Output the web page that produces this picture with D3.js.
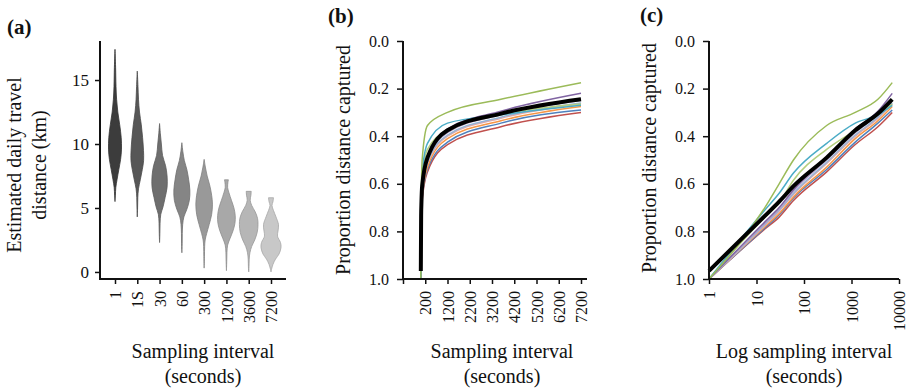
<!DOCTYPE html>
<html>
<head>
<meta charset="utf-8">
<script src="https://cdn.jsdelivr.net/npm/d3@7"></script>
<style>
  body { margin: 0; background: #fff; }
  svg, svg text { font-family: "Liberation Serif", "Times New Roman", serif; }
</style>
</head>
<body>
<svg id="fig" width="911" height="391"></svg>
<script>
// ---- panel (a) data: violin profiles (km level, relative density) ----
const violinCats = ["1", "1S", "30", "60", "300", "1200", "3600", "7200"];
const violinKm = [
  [17.4, 16, 14.5, 13.5, 12.5, 11.5, 10.5, 9.6, 8.8, 8, 7.2, 6.6, 6, 5.5],
  [15.7, 14.5, 13.5, 12.5, 11.5, 10.5, 9.5, 8.7, 8, 7.2, 6.5, 5.8, 5, 4.3],
  [11.6, 10.8, 10, 9.1, 8.3, 7.5, 6.6, 5.8, 5.1, 4.5, 3.8, 3, 2.3],
  [10.1, 9.4, 8.7, 8, 7.2, 6.4, 5.6, 4.9, 4.3, 3.7, 3, 2.2, 1.5],
  [8.8, 8.2, 7.5, 6.8, 6, 5.3, 4.5, 3.7, 3, 2.5, 2, 1.2, 0.3],
  [7.2, 7.0, 6.6, 6.2, 5.6, 5, 4.4, 3.8, 3.2, 2.6, 2.1, 1.5, 0.8, 0.1],
  [6.3, 6.0, 5.6, 5.2, 4.7, 4.2, 3.7, 3.1, 2.5, 2, 1.5, 1, 0.4, 0],
  [5.8, 5.5, 5.2, 4.8, 4.3, 3.7, 3.2, 2.8, 2.3, 1.9, 1.4, 1, 0.6, 0.2, 0]
];
const violinDensity = [
  [0, 0.06, 0.1, 0.16, 0.28, 0.47, 0.62, 0.65, 0.56, 0.38, 0.2, 0.08, 0.04, 0],
  [0, 0.07, 0.12, 0.22, 0.4, 0.53, 0.62, 0.63, 0.5, 0.3, 0.12, 0.05, 0.03, 0],
  [0, 0.08, 0.18, 0.3, 0.6, 0.75, 0.75, 0.55, 0.35, 0.12, 0.05, 0.03, 0],
  [0, 0.1, 0.25, 0.5, 0.68, 0.8, 0.75, 0.5, 0.2, 0.08, 0.04, 0.03, 0],
  [0, 0.12, 0.3, 0.55, 0.75, 0.83, 0.75, 0.5, 0.25, 0.1, 0.05, 0.03, 0],
  [0.2, 0.15, 0.12, 0.25, 0.5, 0.75, 0.88, 0.85, 0.65, 0.35, 0.12, 0.05, 0.03, 0],
  [0.25, 0.22, 0.15, 0.3, 0.65, 0.88, 0.93, 0.85, 0.6, 0.3, 0.12, 0.05, 0.03, 0],
  [0.25, 0.2, 0.1, 0.25, 0.5, 0.75, 0.7, 0.65, 0.95, 1.0, 0.8, 0.45, 0.2, 0.05, 0]
];
const kmTicks = [0, 5, 10, 15];

// ---- panels (b) and (c) data: proportion of distance captured ----
const intervals = [1, 15, 30, 60, 300, 1200, 3600, 7200];
const propRed      = [1.00, 0.79, 0.74, 0.67, 0.55, 0.435, 0.36, 0.30];
const propBlue     = [1.00, 0.785, 0.73, 0.66, 0.54, 0.425, 0.345, 0.29];
const propOrange   = [1.00, 0.78, 0.725, 0.655, 0.53, 0.41, 0.335, 0.275];
const propPink     = [1.00, 0.775, 0.715, 0.645, 0.515, 0.40, 0.325, 0.265];
const propSkyBlue  = [1.00, 0.77, 0.71, 0.64, 0.51, 0.395, 0.32, 0.26];
const propLavender = [1.00, 0.765, 0.705, 0.63, 0.50, 0.385, 0.31, 0.25];
const propLime     = [1.00, 0.74, 0.68, 0.585, 0.455, 0.375, 0.31, 0.265];
const propPurple   = [1.00, 0.76, 0.70, 0.625, 0.49, 0.37, 0.295, 0.22];
const propTeal     = [1.00, 0.71, 0.64, 0.555, 0.43, 0.345, 0.31, 0.27];
const propGreen    = [1.00, 0.70, 0.60, 0.50, 0.355, 0.30, 0.245, 0.175];
const propMean     = [0.966, 0.735, 0.675, 0.61, 0.49, 0.375, 0.305, 0.245];
const propTicks = [0, 0.2, 0.4, 0.6, 0.8, 1.0];
const linearTicks = [-800, 200, 1200, 2200, 3200, 4200, 5200, 6200, 7200];
const logTicks = [1, 10, 100, 1000, 10000];

const series = [propRed, propBlue, propOrange, propPink, propSkyBlue, propLavender,
                propLime, propPurple, propTeal, propGreen];
const seriesColors = ["#c0504d", "#4f81bd", "#f79646", "#e6a9a6", "#95b3d7", "#b3a2c7",
                      "#b5cf7e", "#8064a2", "#4bacc6", "#9bbb59"];
const violinFills = ["#3c3c3c", "#575757", "#6e6e6e", "#858585", "#999999", "#a8a8a8", "#b6b6b6", "#c8c8c8"];

const svg = d3.select("#fig");

function styleAxis(g, size) {
  g.attr("font-family", null);
  g.selectAll("line").attr("stroke", "#111").attr("stroke-width", 1.5);
  g.selectAll("text").attr("font-size", size).attr("fill", "#111");
  g.select(".domain").remove();
}

function rotateLabels(g) {
  g.selectAll("text")
    .attr("transform", "rotate(-90)")
    .attr("text-anchor", "end")
    .attr("x", -12).attr("y", 0).attr("dy", "0.35em");
}

function frame(x0, x1, y0, y1) {
  svg.append("path")
    .attr("d", `M${x0},${y0}V${y1}H${x1}`)
    .attr("fill", "none").attr("stroke", "#111").attr("stroke-width", 2);
}

function label(txt, x, y, opts = {}) {
  const t = svg.append("text").attr("x", x).attr("y", y)
    .attr("font-size", opts.size || 20)
    .attr("text-anchor", opts.anchor || "middle")
    .attr("fill", "#111")
    .text(txt);
  if (opts.bold) t.attr("font-weight", "bold");
  if (opts.rotate) t.attr("transform", `rotate(-90,${x},${y})`);
  return t;
}

// ================= panel (a) =================
const xA = d3.scalePoint().domain(violinCats).range([115, 271]);
const yA = d3.scaleLinear().domain([-0.55, 18.05]).range([279, 41]);
const wA = d3.scaleLinear().domain([0, 1]).range([0, 10]);

violinCats.forEach((c, i) => {
  const pts = violinKm[i].map((k, j) => ({ km: k, d: violinDensity[i][j] }));
  const area = d3.area()
    .y(d => yA(d.km))
    .x0(d => xA(c) - wA(d.d))
    .x1(d => xA(c) + wA(d.d))
    .curve(d3.curveCatmullRom);
  svg.append("path")
    .attr("d", area(pts))
    .attr("fill", violinFills[i])
    .attr("stroke", d3.color(violinFills[i]).darker(0.5))
    .attr("stroke-width", 0.8);
});

svg.append("g").attr("transform", "translate(100,0)")
  .call(d3.axisLeft(yA).tickValues(kmTicks).tickSize(5).tickPadding(6).tickSizeOuter(0))
  .call(g => styleAxis(g, 17));
svg.append("g").attr("transform", "translate(0,279)")
  .call(d3.axisBottom(xA).tickSize(5).tickSizeOuter(0))
  .call(g => styleAxis(g, 16))
  .call(rotateLabels);
frame(100, 286, 41, 279);

label("(a)", 7, 34, { anchor: "start", bold: true, size: 21 });
label("Estimated daily travel", 21, 165, { rotate: true });
label("distance (km)", 46, 165, { rotate: true });
label("Sampling interval", 203, 358);
label("(seconds)", 203, 383);

// ================= panel (b) =================
const xB = d3.scaleLinear().domain([-800, 7200]).range([403, 581]);
const yB = d3.scaleLinear().domain([0, 1]).range([41, 279]);

const lineB = d3.line().x(d => xB(d[0])).y(d => yB(d[1])).curve(d3.curveMonotoneX);
series.forEach((s, i) => {
  svg.append("path").attr("d", lineB(intervals.map((t, j) => [t, s[j]])))
    .attr("fill", "none").attr("stroke", seriesColors[i]).attr("stroke-width", 1.5);
});
svg.append("path").attr("d", lineB(intervals.map((t, j) => [t, propMean[j]])))
  .attr("fill", "none").attr("stroke", "#000").attr("stroke-width", 4);

svg.append("g").attr("transform", "translate(403,0)")
  .call(d3.axisLeft(yB).tickValues(propTicks).tickFormat(d3.format(".1f"))
    .tickSize(6).tickPadding(8).tickSizeOuter(0))
  .call(g => styleAxis(g, 16));
svg.append("g").attr("transform", "translate(0,279)")
  .call(d3.axisBottom(xB).tickValues(linearTicks).tickFormat(d => d < 0 ? "" : d)
    .tickSize(5).tickSizeOuter(0))
  .call(g => styleAxis(g, 16))
  .call(rotateLabels);
frame(403, 587, 41, 279);

label("(b)", 328, 23, { anchor: "start", bold: true, size: 21 });
label("Proportion distance captured", 350, 160, { rotate: true });
label("Sampling interval", 502, 358);
label("(seconds)", 502, 383);

// ================= panel (c) =================
const xC = d3.scaleLog().domain([1, 10000]).range([709, 899]);
const yC = d3.scaleLinear().domain([0, 1]).range([41, 279]);

const lineC = d3.line().x(d => xC(d[0])).y(d => yC(d[1])).curve(d3.curveMonotoneX);
series.forEach((s, i) => {
  svg.append("path").attr("d", lineC(intervals.map((t, j) => [t, s[j]])))
    .attr("fill", "none").attr("stroke", seriesColors[i]).attr("stroke-width", 1.5);
});
svg.append("path").attr("d", lineC(intervals.map((t, j) => [t, propMean[j]])))
  .attr("fill", "none").attr("stroke", "#000").attr("stroke-width", 4);

svg.append("g").attr("transform", "translate(709,0)")
  .call(d3.axisLeft(yC).tickValues(propTicks).tickFormat(d3.format(".1f"))
    .tickSize(6).tickPadding(8).tickSizeOuter(0))
  .call(g => styleAxis(g, 16));
svg.append("g").attr("transform", "translate(0,279)")
  .call(d3.axisBottom(xC).tickValues(logTicks).tickFormat(d3.format("d"))
    .tickSize(5).tickSizeOuter(0))
  .call(g => styleAxis(g, 16))
  .call(rotateLabels);
frame(709, 899, 41, 279);

label("(c)", 640, 22, { anchor: "start", bold: true, size: 21 });
label("Proportion distance captured", 656, 158, { rotate: true });
label("Log sampling interval", 804, 358);
label("(seconds)", 804, 383);
</script>
</body>
</html>
